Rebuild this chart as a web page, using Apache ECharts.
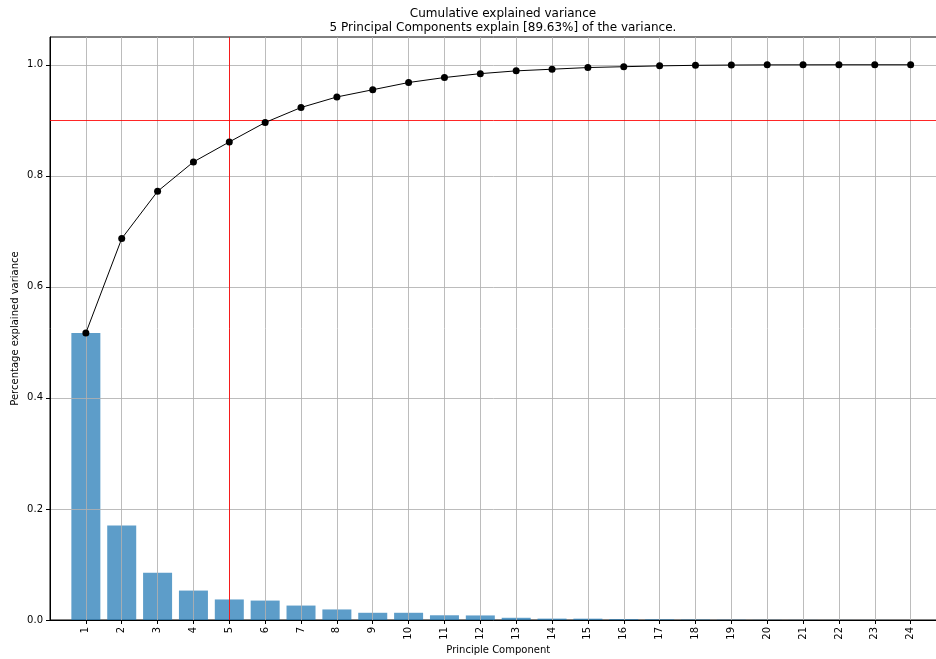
<!DOCTYPE html>
<html>
<head>
<meta charset="utf-8">
<script src="https://cdn.jsdelivr.net/npm/echarts@6/dist/echarts.min.js"></script>
<style>
html,body{margin:0;padding:0;background:#fff;}
#chart{width:936px;height:659px;}
</style>
</head>
<body>
<div id="chart"></div>
<script>
var components = [1,2,3,4,5,6,7,8,9,10,11,12,13,14,15,16,17,18,19,20,21,22,23,24];
var explained = [0.517,0.170,0.085,0.053,0.037,0.035,0.026,0.019,0.013,0.013,0.0085,0.0082,0.004,0.0025,0.0024,0.0015,0.0012,0.0008,0.0005,0.0003,0.0002,0.0001,0.0001,0.00005];
var cumulative = [0.517,0.687,0.772,0.825,0.861,0.896,0.923,0.942,0.955,0.968,0.977,0.984,0.989,0.992,0.995,0.9965,0.998,0.999,0.9995,0.9998,0.9999,1.0,1.0,1.0];
var yTicks = [0,0.2,0.4,0.6,0.8,1.0];
var thresholdValue = 0.8963;
var selectedComponent = 5;
var titleText = 'Cumulative explained variance\n5 Principal Components explain [89.63%] of the variance.';

var barData = components.map(function(c,i){return [c, explained[i]];});
var lineData = components.map(function(c,i){return [c, cumulative[i]];});

var chart = echarts.init(document.getElementById('chart'), null, {renderer:'canvas'});
var font = 'DejaVu Sans';
chart.setOption({
  animation:false,
  backgroundColor:'#fff',
  title:{
    text:titleText,
    left:498, top:2, textAlign:'center',
    textStyle:{fontFamily:font,fontSize:12,fontWeight:'normal',color:'#000',lineHeight:14}
  },
  grid:{left:50,right:-10.5,top:37,bottom:39,show:true,borderColor:'#000',borderWidth:1,backgroundColor:'transparent',
    containLabel:false,outerBoundsMode:'none'},
  xAxis:{
    type:'value', min:0, max:25, z:3,
    name:'Principle Component', nameLocation:'middle', nameGap:25, nameMoveOverlap:false,
    nameTextStyle:{fontFamily:font,fontSize:10,color:'#000'},
    axisLine:{show:true,onZero:false,lineStyle:{color:'#000',width:1}},
    axisTick:{show:true,length:4,lineStyle:{color:'#000'},customValues:components},
    axisLabel:{fontFamily:font,fontSize:10,color:'#000',rotate:90,margin:7,customValues:components},
    splitLine:{show:true,lineStyle:{color:'#b0b0b0',width:1,opacity:0.85}}
  },
  yAxis:{
    type:'value', min:0, max:1.05, z:3,
    name:'Percentage explained variance', nameLocation:'middle', nameGap:30, nameMoveOverlap:false,
    nameTextStyle:{fontFamily:font,fontSize:10,color:'#000'},
    axisLine:{show:true,lineStyle:{color:'#000',width:1}},
    axisTick:{show:true,length:4,lineStyle:{color:'#000'},customValues:yTicks},
    axisLabel:{fontFamily:font,fontSize:10,color:'#000',margin:7,customValues:yTicks,
      formatter:function(v){return v.toFixed(1);}},
    splitLine:{show:true,lineStyle:{color:'#b0b0b0',width:1,opacity:0.85}}
  },
  series:[
    {
      type:'bar', data:barData, barWidth:29, z:2,
      itemStyle:{color:'#1f77b4',opacity:0.72}
    },
    {
      type:'line', data:lineData, z:5,
      symbol:'circle', symbolSize:7,
      lineStyle:{color:'#000',width:1},
      itemStyle:{color:'#000'},
      markLine:{
        silent:true, symbol:'none', z:4,
        label:{show:false},
        lineStyle:{color:'#ff0000',width:1,type:'solid',opacity:0.85},
        data:[{yAxis:thresholdValue},{xAxis:selectedComponent}]
      }
    }
  ]
});
</script>
</body>
</html>
